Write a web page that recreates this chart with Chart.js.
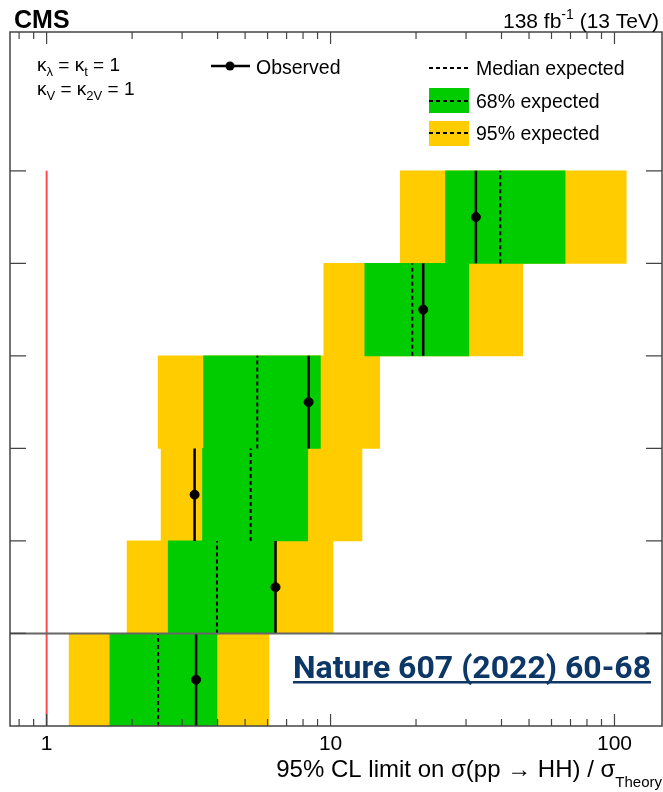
<!DOCTYPE html>
<html>
<head>
<meta charset="utf-8">
<script src="https://cdn.jsdelivr.net/npm/chart.js@4.4.1/dist/chart.umd.min.js"></script>
<style>
  body { margin: 0; background: #fff; }
  #wrap { width: 663px; height: 792px; }
</style>
</head>
<body>
<div id="wrap"><canvas id="limits" width="663" height="792"></canvas></div>
<script>
// HH signal strength limits per channel, bottom row is the combination
const channels = ["Combination", "bbbb", "bbττ", "bbγγ", "Multilepton", "bbZZ"];
const observed = [3.36, 6.4, 3.32, 8.37, 21.2, 32.5];
const medianExp = [2.47, 3.98, 5.23, 5.52, 19.4, 39.6];
const band68Lo = [1.67, 2.68, 3.54, 3.57, 13.2, 25.4];
const band68Hi = [3.98, 6.37, 8.31, 9.21, 30.7, 67.0];
const band95Lo = [1.2, 1.92, 2.53, 2.47, 9.47, 17.6];
const band95Hi = [6.07, 10.2, 12.9, 14.9, 47.5, 110];
const smRef = 1;

const FONT = "'Liberation Sans', Arial, sans-serif";
const GREEN = "#00cc00";
const YELLOW = "#ffcc00";

// vertical segments spanning each row, broken by null points
const rowSegments = (vals) => {
  const pts = [];
  vals.forEach((v, i) => {
    pts.push({ x: v, y: i }, { x: v, y: i + 1 }, { x: null, y: null });
  });
  return pts;
};

const bandData = (lo, hi) => channels.map((c, i) => ({ y: i + 0.5, x: [lo[i], hi[i]] }));

// draw a run of text pieces (sub/superscripts) starting at x or ending at x
const drawRuns = (ctx, runs, x, y, align) => {
  let total = 0;
  runs.forEach((r) => {
    ctx.font = (r.bold ? "bold " : "") + r.size + "px " + (r.family || FONT);
    r.w = ctx.measureText(r.t).width;
    total += r.w;
  });
  let cx = align === "right" ? x - total : x;
  ctx.textAlign = "left";
  ctx.textBaseline = "alphabetic";
  runs.forEach((r) => {
    ctx.font = (r.bold ? "bold " : "") + r.size + "px " + (r.family || FONT);
    ctx.fillText(r.t, cx, y + (r.dy || 0));
    cx += r.w;
  });
  return total;
};

const decorations = {
  id: "decorations",
  afterDatasetsDraw(chart) {
    const { ctx, chartArea: a, scales } = chart;
    const xs = scales.x;
    const ys = scales.y;
    ctx.save();

    // separator between the combination and the single channels
    const ySep = ys.getPixelForValue(1);
    ctx.strokeStyle = "#666";
    ctx.lineWidth = 2;
    ctx.beginPath();
    ctx.moveTo(a.left, ySep);
    ctx.lineTo(a.right, ySep);
    ctx.stroke();

    // frame
    ctx.strokeStyle = "#444";
    ctx.lineWidth = 1.5;
    ctx.strokeRect(a.left, a.top, a.right - a.left, a.bottom - a.top);

    // inward ticks on the log axis, top and bottom
    ctx.lineWidth = 1.2;
    xs.ticks.forEach((t) => {
      const v = t.value;
      const e = Math.floor(Math.log10(v) + 1e-9);
      const m = v / Math.pow(10, e);
      if (Math.abs(m - Math.round(m)) > 1e-6) return;
      const px = xs.getPixelForValue(v);
      if (px <= a.left + 1 || px >= a.right - 1) return;
      const len = Math.round(m) === 1 ? 12 : 7;
      ctx.beginPath();
      ctx.moveTo(px, a.bottom);
      ctx.lineTo(px, a.bottom - len);
      ctx.moveTo(px, a.top);
      ctx.lineTo(px, a.top + len);
      ctx.stroke();
    });

    // row ticks, left and right
    for (let i = 1; i <= channels.length; i++) {
      const py = ys.getPixelForValue(i);
      ctx.beginPath();
      ctx.moveTo(a.left, py);
      ctx.lineTo(a.left + 16, py);
      ctx.moveTo(a.right, py);
      ctx.lineTo(a.right - 16, py);
      ctx.stroke();
    }

    ctx.fillStyle = "#000";

    // header
    drawRuns(ctx, [{ t: "CMS", size: 25, bold: true }], 14, 28);
    drawRuns(ctx, [
      { t: "138 fb", size: 21 },
      { t: "-1", size: 14, dy: -9 },
      { t: " (13 TeV)", size: 21 },
    ], 659, 28, "right");

    // coupling assumptions
    drawRuns(ctx, [
      { t: "κ", size: 19 }, { t: "λ", size: 13, dy: 5 },
      { t: " = κ", size: 19 }, { t: "t", size: 13, dy: 5 },
      { t: " = 1", size: 19 },
    ], 37, 71);
    drawRuns(ctx, [
      { t: "κ", size: 19 }, { t: "V", size: 13, dy: 5 },
      { t: " = κ", size: 19 }, { t: "2V", size: 13, dy: 5 },
      { t: " = 1", size: 19 },
    ], 37, 95);

    // legend: observed
    ctx.strokeStyle = "#000";
    ctx.lineWidth = 2.5;
    ctx.setLineDash([]);
    ctx.beginPath();
    ctx.moveTo(211, 66);
    ctx.lineTo(250, 66);
    ctx.stroke();
    ctx.beginPath();
    ctx.arc(230, 66, 4.5, 0, Math.PI * 2);
    ctx.fill();
    drawRuns(ctx, [{ t: "Observed", size: 19.5 }], 256, 74);

    // legend: expected
    ctx.fillStyle = GREEN;
    ctx.fillRect(429, 88, 40, 25);
    ctx.fillStyle = YELLOW;
    ctx.fillRect(429, 121, 40, 25);
    ctx.lineWidth = 2;
    ctx.setLineDash([4, 3]);
    [68, 101, 133].forEach((ly) => {
      ctx.beginPath();
      ctx.moveTo(429, ly);
      ctx.lineTo(469, ly);
      ctx.stroke();
    });
    ctx.setLineDash([]);
    ctx.fillStyle = "#000";
    drawRuns(ctx, [{ t: "Median expected", size: 19.5 }], 476, 75);
    drawRuns(ctx, [{ t: "68% expected", size: 19.5 }], 476, 108);
    drawRuns(ctx, [{ t: "95% expected", size: 19.5 }], 476, 140);

    // axis title
    drawRuns(ctx, [
      { t: "95% CL limit on σ(pp → HH) / σ", size: 24 },
      { t: "Theory", size: 15, dy: 10 },
    ], 662, 777, "right");

    // reference
    ctx.fillStyle = "#0c3766";
    const w = drawRuns(ctx, [{ t: "Nature 607 (2022) 60-68", size: 32, bold: true, family: "Roboto, sans-serif" }], 293, 678);
    ctx.fillRect(293, 681, w, 2.5);

    ctx.restore();
  },
};

new Chart(document.getElementById("limits"), {
  type: "bar",
  data: {
    datasets: [
      {
        type: "line",
        data: [{ x: smRef, y: 0 }, { x: smRef, y: channels.length }],
        borderColor: "#ff4d4d",
        borderWidth: 2,
        pointRadius: 0,
        order: 6,
      },
      {
        type: "bar",
        indexAxis: "y",
        data: bandData(band95Lo, band95Hi),
        backgroundColor: YELLOW,
        grouped: false,
        barPercentage: 1,
        categoryPercentage: 1,
        order: 5,
      },
      {
        type: "bar",
        indexAxis: "y",
        data: bandData(band68Lo, band68Hi),
        backgroundColor: GREEN,
        grouped: false,
        barPercentage: 1,
        categoryPercentage: 1,
        order: 4,
      },
      {
        type: "line",
        data: rowSegments(medianExp),
        borderColor: "#000",
        borderWidth: 2,
        borderDash: [4, 3],
        pointRadius: 0,
        order: 3,
      },
      {
        type: "line",
        data: rowSegments(observed),
        borderColor: "#000",
        borderWidth: 2.5,
        pointRadius: 0,
        order: 2,
      },
      {
        type: "scatter",
        data: observed.map((v, i) => ({ x: v, y: i + 0.5 })),
        backgroundColor: "#000",
        borderColor: "#000",
        pointRadius: 4.5,
        order: 1,
      },
    ],
  },
  options: {
    responsive: false,
    animation: false,
    layout: { autoPadding: false, padding: { top: 32, left: 10, right: 1, bottom: 0 } },
    plugins: { legend: { display: false }, tooltip: { enabled: false } },
    scales: {
      x: {
        type: "logarithmic",
        bounds: "data",
        min: 0.743,
        max: 147,
        grid: { display: false },
        border: { display: false },
        ticks: {
          autoSkip: false,
          maxRotation: 0,
          padding: -2,
          color: "#000",
          font: { family: FONT, size: 21 },
          callback: (value) => {
            const e = Math.log10(value);
            return Math.abs(e - Math.round(e)) < 1e-9 ? String(value) : "";
          },
        },
        // fixed axis height, no extra side padding for the labels
        afterFit: (scale) => {
          scale.height = 66;
          scale.paddingLeft = 0;
          scale.paddingRight = 0;
        },
      },
      y: {
        type: "linear",
        display: false,
        offset: false,
        min: 0,
        max: 7.5,
        // one tick per row boundary so bars fill the whole row
        afterBuildTicks: (scale) => {
          scale.ticks = scale.ticks.filter((t) => Number.isInteger(t.value));
        },
      },
    },
  },
  plugins: [decorations],
});
</script>
</body>
</html>
